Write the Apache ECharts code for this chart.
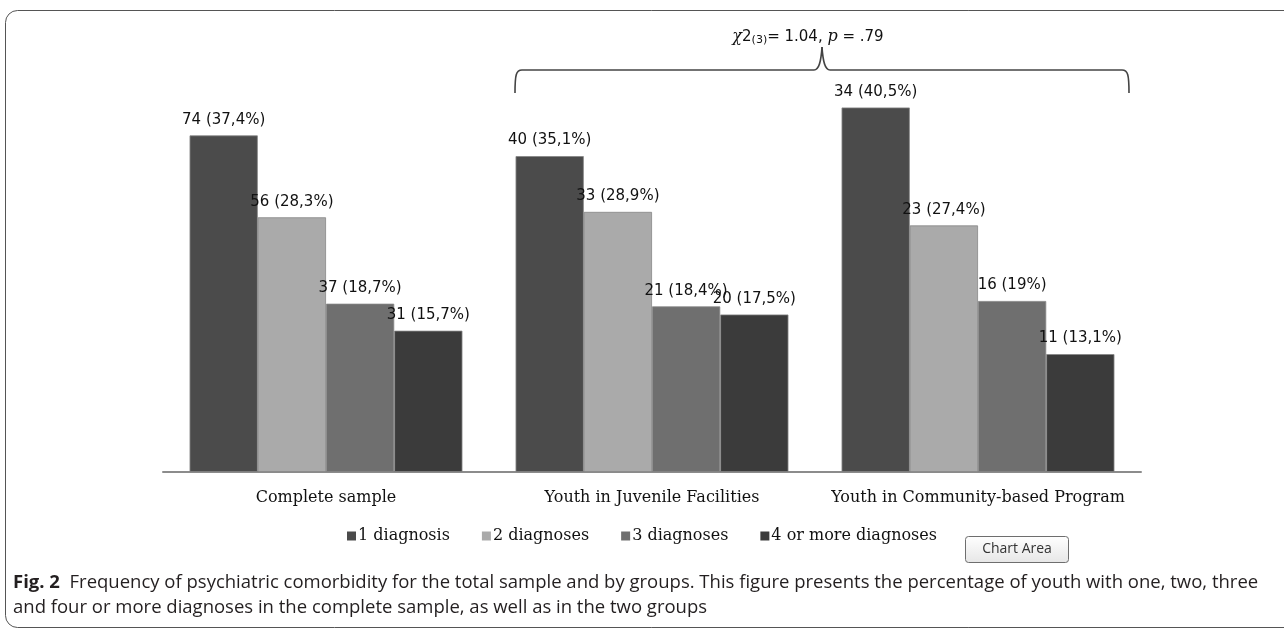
<!DOCTYPE html>
<html>
<head>
<meta charset="utf-8">
<script src="https://cdn.jsdelivr.net/npm/echarts@6/dist/echarts.min.js"></script>
<style>
html,body{margin:0;padding:0;background:#fff;}
#c{width:1284px;height:630px;}
</style>
</head>
<body>
<div id="c"></div>
<script>
const categories = ['Complete sample', 'Youth in Juvenile Facilities', 'Youth in Community-based Program'];
const seriesNames = ['1 diagnosis', '2 diagnoses', '3 diagnoses', '4 or more diagnoses'];
const pct1 = [37.4, 35.1, 40.5];
const pct2 = [28.3, 28.9, 27.4];
const pct3 = [18.7, 18.4, 19];
const pct4 = [15.7, 17.5, 13.1];
const count1 = [74, 40, 34];
const count2 = [56, 33, 23];
const count3 = [37, 21, 16];
const count4 = [31, 20, 11];
const colors = ['#4b4b4b', '#aaaaaa', '#6f6f6f', '#3b3b3b'];

const pcts = [pct1, pct2, pct3, pct4];
const counts = [count1, count2, count3, count4];

const chart = echarts.init(document.getElementById('c'));

const series = seriesNames.map((name, s) => ({
  name: name,
  type: 'bar',
  barGap: '0%',
  barCategoryGap: '16.3%',
  data: pcts[s],
  itemStyle: { color: colors[s], borderColor: '#858585', borderWidth: 0.8 },
  label: {
    show: true,
    position: 'top',
    distance: 8,
    fontFamily: 'DejaVu Sans',
    fontSize: 15,
    color: '#111',
    formatter: p => counts[s][p.dataIndex] + ' (' + String(p.value).replace('.', ',') + '%)'
  }
}));

const braceStyle = { fill: 'none', stroke: '#444', lineWidth: 1.6 };

chart.setOption({
  animation: false,
  backgroundColor: '#fff',
  grid: { left: 163, right: 143, top: 22, bottom: 158 },
  legend: {
    data: seriesNames,
    left: 'center',
    top: 523,
    icon: 'rect',
    itemWidth: 9,
    itemHeight: 9,
    itemGap: 32,
    itemStyle: { borderWidth: 0 },
    textStyle: { fontFamily: 'DejaVu Serif', fontSize: 16, color: '#111', padding: [0, 0, 0, -3] }
  },
  xAxis: {
    type: 'category',
    data: categories,
    axisLine: { lineStyle: { color: '#8c8c8c', width: 2 } },
    axisTick: { show: false },
    axisLabel: { interval: 0, margin: 18, fontFamily: 'DejaVu Serif', fontSize: 16, color: '#111' }
  },
  yAxis: {
    type: 'value', min: 0, max: 50, show: false,
    splitLine: { show: false }
  },
  series: series,
  graphic: [
    { type: 'rect', shape: { x: 5.5, y: 10.5, width: 1300, height: 617, r: 12 },
      style: { fill: 'none', stroke: '#555', lineWidth: 1 }, silent: true, z: -1 },
    { type: 'bezierCurve', shape: { x1: 515, y1: 93, cpx1: 515, cpy1: 75, cpx2: 516, cpy2: 70, x2: 522, y2: 70 }, style: braceStyle, silent: true },
    { type: 'line', shape: { x1: 522, y1: 70, x2: 814, y2: 70 }, style: braceStyle, silent: true },
    { type: 'bezierCurve', shape: { x1: 814, y1: 70, cpx1: 819, cpy1: 70, cpx2: 821, cpy2: 62, x2: 822, y2: 47 }, style: braceStyle, silent: true },
    { type: 'bezierCurve', shape: { x1: 830, y1: 70, cpx1: 825, cpy1: 70, cpx2: 823, cpy2: 62, x2: 822, y2: 47 }, style: braceStyle, silent: true },
    { type: 'line', shape: { x1: 830, y1: 70, x2: 1122, y2: 70 }, style: braceStyle, silent: true },
    { type: 'bezierCurve', shape: { x1: 1129, y1: 93, cpx1: 1129, cpy1: 75, cpx2: 1128, cpy2: 70, x2: 1122, y2: 70 }, style: braceStyle, silent: true },
    { type: 'text', x: 808, y: 37,
      style: {
        text: '{i|χ}{n|2}{s|(3)}{n|= 1.04, }{i|p}{n| = .79}',
        align: 'center', verticalAlign: 'middle',
        rich: {
          n: { fontFamily: 'DejaVu Sans', fontSize: 15, fill: '#111' },
          i: { fontFamily: 'DejaVu Serif', fontStyle: 'italic', fontSize: 16, fill: '#111' },
          s: { fontFamily: 'DejaVu Sans', fontSize: 11, fill: '#111', padding: [6, 0, 0, 0] }
        }
      } },
    { type: 'rect', shape: { x: 965.5, y: 536.5, width: 103, height: 26, r: 3 },
      style: { fill: { type: 'linear', x: 0, y: 0, x2: 0, y2: 1, colorStops: [{ offset: 0, color: '#ffffff' }, { offset: 1, color: '#e6e6e6' }] }, stroke: '#6e6e6e', lineWidth: 1 } },
    { type: 'text', x: 1017, y: 549,
      style: { text: 'Chart Area', align: 'center', verticalAlign: 'middle', fontFamily: 'Open Sans', fontSize: 14, fill: '#333' } },
    { type: 'text', x: 13, y: 583,
      style: {
        text: '{b|Fig. 2}{n|  Frequency of psychiatric comorbidity for the total sample and by groups. This figure presents the percentage of youth with one, two, three}',
        verticalAlign: 'middle',
        rich: {
          b: { fontFamily: 'Open Sans', fontWeight: 'bold', fontSize: 18.5, fill: '#231f20' },
          n: { fontFamily: 'Open Sans', fontSize: 18.5, fill: '#231f20' }
        }
      } },
    { type: 'text', x: 13, y: 608,
      style: { text: 'and four or more diagnoses in the complete sample, as well as in the two groups', verticalAlign: 'middle', fontFamily: 'Open Sans', fontSize: 18.5, fill: '#231f20' } }
  ]
});
</script>
</body>
</html>
